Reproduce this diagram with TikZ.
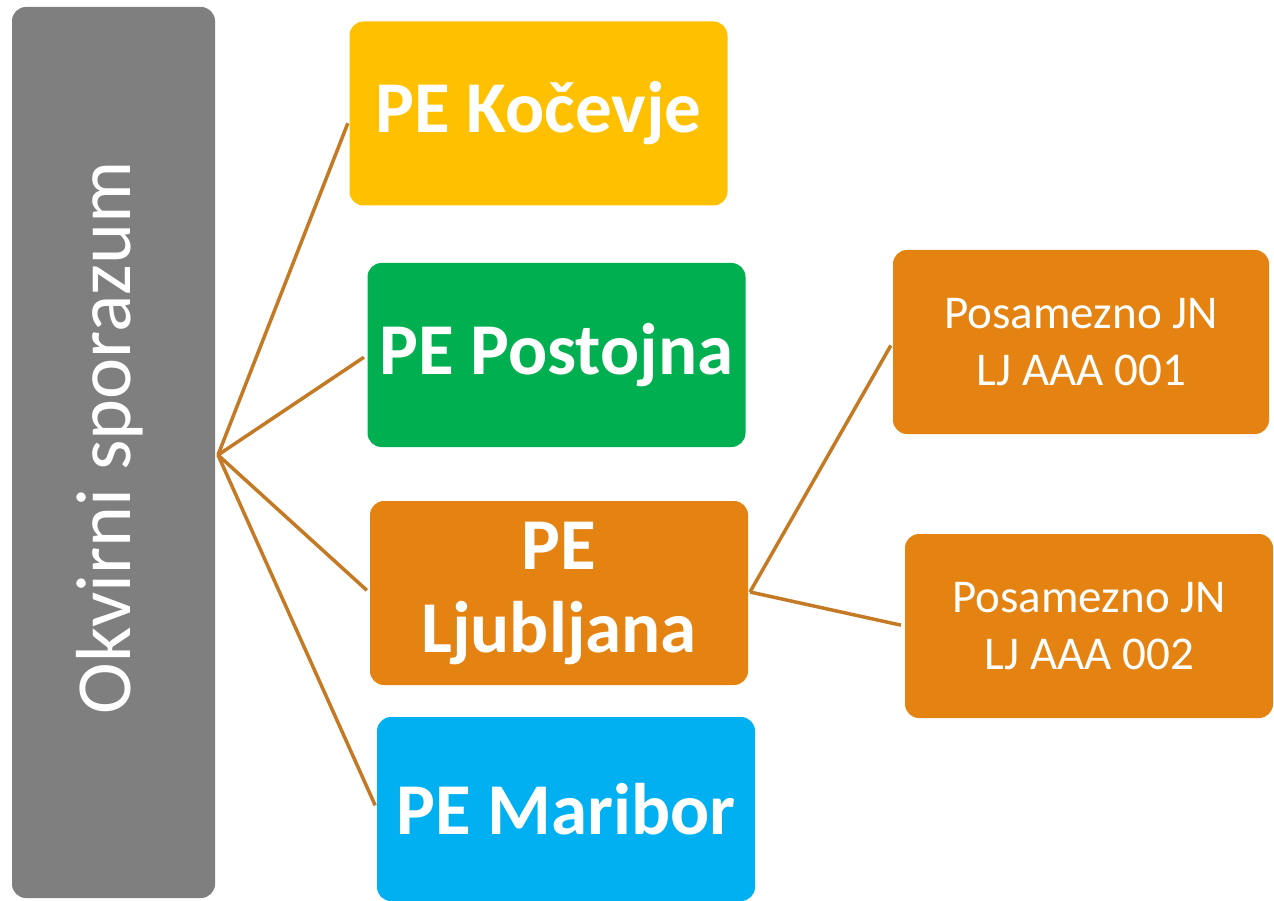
\documentclass[tikz,border=0pt]{standalone}
\usepackage{fontspec}
\setmainfont{Carlito}
\definecolor{graybox}{RGB}{127,127,127}
\definecolor{yel}{RGB}{255,192,0}
\definecolor{grn}{RGB}{0,176,80}
\definecolor{org}{RGB}{228,131,18}
\definecolor{blu}{RGB}{0,176,240}
\definecolor{conn}{RGB}{196,122,36}
\begin{document}
\begin{tikzpicture}[x=1pt,y=-1pt,
  box/.style={rounded corners=14pt, inner sep=0pt, text=white, align=center},
  pebox/.style={box, minimum width=378pt, minimum height=184pt, font=\bfseries\fontsize{73}{83}\selectfont},
  jnbox/.style={box, minimum width=372pt, minimum height=184pt, font=\fontsize{47}{57}\selectfont},
  link/.style={draw=conn, line width=3.5pt, shorten >=4pt}]
\useasboundingbox (0,0) rectangle (1274,901);
\node[box, fill=graybox, minimum width=203pt, minimum height=891pt] (g) at (113.5,452.5) {};
\node[text=white, rotate=90, font=\fontsize{78}{90}\selectfont, inner sep=0pt] (gt) at (110,438) {Okvirni sporazum};
\node[pebox, fill=yel] (k) at (538.5,113.5) {PE Kočevje};
\node[pebox, fill=grn] (p) at (556.5,355) {PE Postojna};
\node[pebox, fill=org] (l) at (559,593) {PE\\Ljubljana};
\node[pebox, fill=blu] (m) at (566,809) {PE Maribor};
\node[jnbox, fill=org, minimum width=376pt] (j1) at (1081,342) {Posamezno JN\\LJ AAA 001};
\node[jnbox, fill=org, minimum width=368pt] (j2) at (1089,626) {Posamezno JN\\LJ AAA 002};
\coordinate (hub) at (218,455);
\coordinate (hub2) at (750,592);
\draw[link] (hub) -- ([yshift=-6pt]k.west);
\draw[link] (hub) -- (p.west);
\draw[link] (hub) -- (l.west);
\draw[link] (hub) -- (m.west);
\draw[link] (hub2) -- (j1.west);
\draw[link] (hub2) -- (j2.west);
\end{tikzpicture}
\end{document}
